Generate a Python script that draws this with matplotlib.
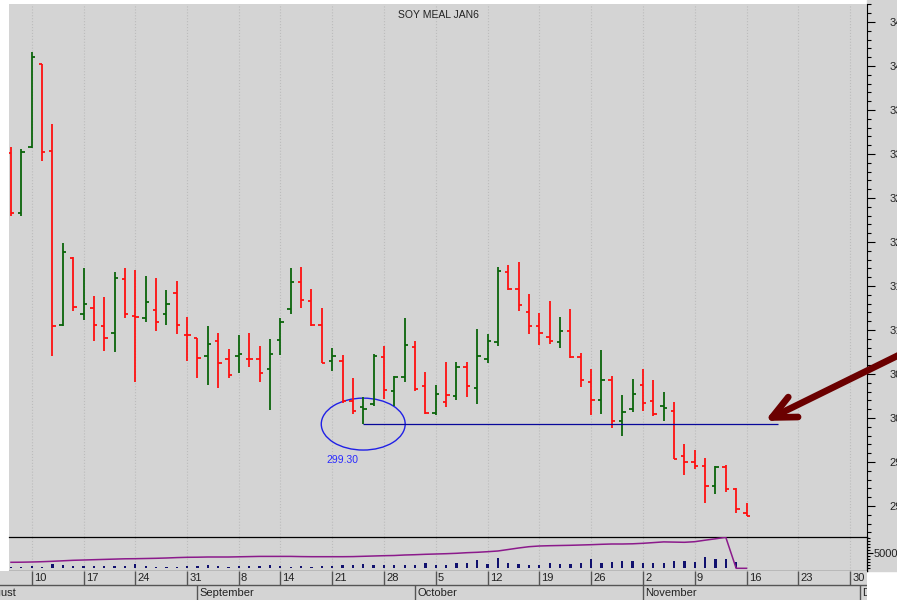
import numpy as np
import pandas as pd
import matplotlib
matplotlib.use("Agg")
import matplotlib.pyplot as plt
import matplotlib.transforms as mtransforms
from matplotlib.patches import Ellipse, Rectangle
from matplotlib.ticker import MultipleLocator, FixedLocator, FixedFormatter

plt.rcParams['font.family'] = ['Liberation Sans', 'DejaVu Sans']

# calendar of trading days (Labor Day skipped), the data starts on Aug 6
days = pd.bdate_range("2015-08-03", "2015-12-01")
days = days[days != pd.Timestamp("2015-09-07")]
first_bar = 3

opens = [330.1, 323.3, 330.8, 340.2, 330.3, 310.6, 318.2, 311.8, 312.5, 310.4,
         309.7, 315.8, 311.6, 311.4, 312.3, 311.8, 314.2, 309.4, 309.1, 307.0,
         308.8, 306.7, 307.0, 306.7, 306.7, 305.6, 308.9, 312.4, 315.5, 313.3,
         310.6, 306.5, 306.5, 301.9, 301.2, 301.6, 306.9, 303.1, 304.6, 308.1,
         303.6, 300.6, 301.8, 302.5, 305.8, 303.4, 306.7, 308.6, 316.6, 314.7,
         312.0, 310.5, 309.2, 308.6, 309.9, 306.9, 304.1, 302.0, 304.3, 299.7,
         301.0, 303.8, 301.9, 301.4, 300.8, 295.7, 295.0, 294.5, 292.3, 294.4,
         291.9, 289.2]
highs = [330.8, 330.6, 341.6, 340.2, 333.4, 319.9, 318.3, 317.0, 313.9, 313.7,
         316.6, 317.0, 316.8, 316.1, 315.9, 314.5, 315.6, 311.5, 309.1, 310.4,
         309.6, 307.8, 309.4, 309.6, 308.2, 309.0, 311.4, 317.0, 317.1, 314.7,
         312.5, 307.9, 307.1, 304.5, 302.4, 307.3, 308.2, 304.8, 311.4, 308.8,
         305.2, 303.8, 306.4, 306.4, 306.4, 310.1, 309.5, 317.1, 317.4, 317.7,
         314.1, 311.9, 313.3, 311.5, 312.4, 307.4, 305.6, 307.7, 304.8, 302.6,
         304.4, 305.6, 304.3, 302.9, 301.8, 297.0, 296.4, 295.5, 294.5, 294.7,
         292.0, 290.3]
lows = [322.9, 323.0, 330.7, 329.2, 307.0, 310.5, 312.1, 311.1, 308.8, 307.6,
        307.5, 311.4, 304.1, 310.9, 309.9, 310.6, 309.5, 306.5, 304.5, 303.8,
        303.4, 304.5, 305.1, 305.8, 304.1, 300.9, 307.1, 311.8, 312.5, 310.5,
        306.3, 305.3, 301.7, 300.4, 299.3, 301.4, 302.2, 301.3, 304.1, 303.1,
        300.5, 300.3, 301.2, 302.0, 302.4, 301.6, 306.2, 308.2, 314.5, 312.1,
        309.5, 308.3, 308.4, 307.9, 306.8, 303.5, 300.3, 300.4, 298.9, 298.0,
        300.7, 300.8, 300.2, 299.7, 295.3, 293.5, 294.2, 290.3, 291.3, 291.6,
        289.2, 288.8]
closes = [323.3, 330.2, 341.0, 330.2, 310.5, 318.9, 312.6, 313.0, 310.6, 309.1,
          315.9, 311.8, 311.5, 313.2, 310.9, 313.0, 310.6, 309.4, 306.8, 308.4,
          306.3, 304.9, 307.3, 306.7, 305.1, 307.3, 310.9, 315.4, 313.4, 310.6,
          306.3, 307.0, 301.9, 300.8, 301.0, 307.0, 303.2, 304.6, 308.3, 303.3,
          300.6, 302.7, 302.6, 305.8, 303.6, 307.0, 308.7, 316.7, 314.7, 312.8,
          310.5, 309.6, 308.8, 309.9, 306.9, 304.3, 302.0, 304.3, 299.7, 300.7,
          302.7, 301.7, 300.4, 301.1, 295.3, 295.0, 294.5, 292.3, 294.4, 291.9,
          289.6, 288.9]
volume = [550, 550, 880, 550, 1400, 1080, 650, 650, 880, 880,
          650, 650, 1400, 880, 550, 550, 550, 880, 880, 1200,
          880, 550, 880, 880, 880, 1200, 880, 550, 750, 550,
          750, 750, 980, 980, 1400, 1200, 980, 980, 980, 1200,
          1630, 1200, 1200, 1630, 1630, 2710, 1400, 3370, 1630, 1400,
          1200, 1200, 1860, 1400, 1400, 1860, 2940, 1860, 2060, 2520,
          2290, 1630, 1630, 1860, 2520, 2290, 2060, 3600, 2940, 2940,
          2060, 0]
open_int = [42000, 42500, 43500, 45000, 47000, 49500, 52000, 53500, 55000, 56500,
            58000, 59500, 60000, 61000, 62000, 63500, 65500, 67000, 67500, 68500,
            68500, 68500, 69500, 70500, 71500, 71500, 71500, 71500, 70500, 70000,
            70000, 70000, 70000, 70500, 72000, 73500, 75000, 76000, 78500, 80000,
            82000, 83500, 85000, 87000, 90000, 92000, 95000, 98500, 106000, 113500,
            120000, 123500, 125000, 126000, 127000, 128500, 130000, 132000, 133500, 133500,
            134500, 137000, 140500, 144000, 143000, 142000, 145000, 152500, 159500, 167000,
            12000, 12000]
support_level = 299.30
month_names = ["August", "September", "October", "November", "December"]

BG = '#d4d4d4'
RED = '#ff1010'
GREEN = '#0b650b'

x = first_bar + np.arange(len(closes))
up = [False] + [closes[i] > closes[i - 1] for i in range(1, len(closes))]
cols = [GREEN if u else RED for u in up]

W, H = 897, 600
fig = plt.figure(figsize=(W / 100, H / 100), dpi=100, facecolor='white')
fig.patches.append(Rectangle((867 / W, 29.3 / H), 30 / W, 1 - 29.3 / H,
                             transform=fig.transFigure, color=BG, zorder=-5))

xl = (first_bar - 0.193, first_bar + 82.63)
ax = fig.add_axes([9 / W, 63.3 / H, 858 / W, 532.7 / H], facecolor=BG)
axv = fig.add_axes([9 / W, 29.3 / H, 858 / W, 34 / H], facecolor=BG)
axo = axv.twinx()
axd = fig.add_axes([0, 0, 867 / W, 29.3 / H], facecolor=BG)

# week starts and month starts
week_pos = []
for i, d in enumerate(days):
    if i == 0 or d.isocalendar()[1] != days[i - 1].isocalendar()[1]:
        if d.weekday() <= 1:
            week_pos.append((i, d.day))
month_pos = []
for i, d in enumerate(days):
    if i == 0 or d.month != days[i - 1].month:
        month_pos.append((i, month_names[d.month - 8]))

# price bars
ax.vlines(x, lows, highs, colors=cols, lw=1.3)
ax.hlines(opens, x - 0.33, x, colors=cols, lw=1.3)
ax.hlines(closes, x, x + 0.33, colors=cols, lw=1.3)
for p, _ in week_pos:
    ax.axvline(p, color='#bcbcbc', lw=0.8, ls=':', zorder=0)
    axv.axvline(p, color='#bcbcbc', lw=0.8, ls=':', zorder=0)

ax.set_xlim(*xl)
ax.set_ylim(286.5, 347.05)
ax.yaxis.tick_right()
ax.yaxis.set_major_locator(MultipleLocator(5))
ax.yaxis.set_minor_locator(MultipleLocator(1))
ax.yaxis.set_major_formatter(lambda v, pos: "%d" % v)
ax.tick_params(axis='y', which='major', length=6, width=0.8, pad=10, labelsize=8, labelcolor='#222222')
ax.tick_params(axis='y', which='minor', length=3, width=0.8)
ax.set_xticks([])
for s in ['left', 'top', 'bottom']:
    ax.spines[s].set_visible(False)
ax.spines['right'].set_linewidth(0.8)

ax.text(0.5, 0.979, "SOY MEAL JAN6", transform=ax.transAxes, ha='center', va='center',
        fontsize=7.5, color='#222222')

# support marker
low_i = int(np.argmin(lows[:40]))
low_x = x[low_i]
ax.hlines(support_level, low_x, low_x + 40, color='#08089a', lw=0.9)
ax.add_patch(Ellipse((low_x, support_level), width=8.1, height=5.9, fill=False,
                     ec='#2020e6', lw=1))
ax.text(low_x - 2.05, support_level - 4.1, "%.2f" % support_level, ha='center', va='center',
        fontsize=7.5, color='#2a2aff')
ax.annotate("", xy=(first_bar + 72.78, 299.66), xytext=(first_bar + 87.7, 308.3),
            annotation_clip=False,
            arrowprops=dict(arrowstyle='->,head_length=1.7,head_width=0.8', lw=4.8,
                            color='#6b0000', shrinkA=0, shrinkB=0, clip_on=False))

# volume + open interest
axv.bar(x, volume, width=0.22, color='#10106e')
axv.set_xlim(*xl)
axv.set_ylim(-784, 10327)
axv.yaxis.tick_right()
axv.yaxis.set_major_locator(FixedLocator([5000]))
axv.yaxis.set_major_formatter(FixedFormatter(["5000"]))
axv.yaxis.set_minor_locator(MultipleLocator(1000))
axv.tick_params(axis='y', which='major', left=False, right=True, labelleft=False, labelright=True,
                length=4, width=0.8, pad=0.5, labelsize=8, labelcolor='#222222')
axv.tick_params(axis='y', which='minor', left=False, right=True, length=2.5, width=0.8)
axv.set_xticks([])
axv.spines['left'].set_visible(False)
for s in ['top', 'bottom', 'right']:
    axv.spines[s].set_linewidth(0.9)
axo.plot(x, open_int, color='#8b1a8b', lw=1.1)
axo.set_ylim(0, 170000)
axo.set_xlim(*xl)
axo.axis('off')

# date strip
axd.set_xlim(first_bar - 1.062, xl[1])
axd.set_ylim(0, 2)
axd.set_xticks([])
axd.set_yticks([])
for s in axd.spines.values():
    s.set_visible(False)
axd.axhline(1, color='#555555', lw=1)
shift = mtransforms.ScaledTranslation(1.5 / 72, 0, fig.dpi_scale_trans)
for p, lab in week_pos:
    axd.vlines(p, 1, 2, color='#555555', lw=1)
    axd.text(p, 1.5, str(lab), transform=axd.transData + shift, clip_on=True,
             ha='left', va='center', fontsize=8, color='#222222')
for p, lab in month_pos:
    if p > 0:
        axd.vlines(p, 0, 1, color='#555555', lw=1)
    axd.text(p, 0.5, lab, transform=axd.transData + shift, clip_on=True,
             ha='left', va='center', fontsize=8, color='#222222')

fig.savefig("out.png", dpi=100, facecolor='white')
